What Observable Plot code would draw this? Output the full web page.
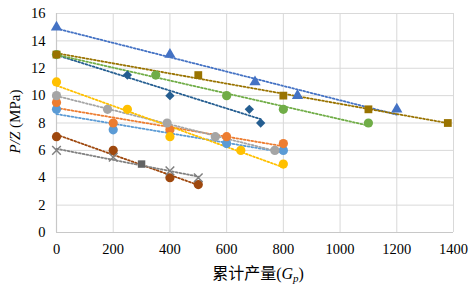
<!DOCTYPE html>
<html><head><meta charset="utf-8">
<script src="https://cdn.jsdelivr.net/npm/d3@7"></script>
<script src="https://cdn.jsdelivr.net/npm/@observablehq/plot@0.6"></script>
<style>body{margin:0;background:#fff}#chart{width:470px;height:284px}
#chart svg text{font-family:"Liberation Serif","Times New Roman","Noto Sans CJK SC",serif}</style>
</head><body><div id="chart"></div>
<script>
// axis ticks
const xTicks = [0, 200, 400, 600, 800, 1000, 1200, 1400];
const yTicks = [0, 2, 4, 6, 8, 10, 12, 14, 16];
const xTitle = "累计产量";
const yTitle = "P/Z";
const yUnit = " (MPa)";

// series values (cumulative production, P/Z)
const lightBlueX = [0, 200, 600, 800];
const lightBlueY = [9, 7.5, 6.5, 6];
const orangeX = [0, 200, 400, 600, 800];
const orangeY = [9.5, 8, 7.5, 7, 6.5];
const greyX = [0, 180, 390, 560, 770];
const greyY = [10, 9, 8, 7, 6];
const yellowX = [0, 250, 400, 650, 800];
const yellowY = [11, 9, 7, 6, 5];
const brownX = [0, 200, 400, 500];
const brownY = [7, 6, 4, 3.5];
const crossX = [0, 200, 400, 500];
const crossY = [6, 5.5, 4.5, 4];
const darkSquareX = [300];
const darkSquareY = [5];
const diamondX = [0, 250, 400, 680, 720];
const diamondY = [13, 11.5, 10, 9, 8];
const greenX = [0, 350, 600, 800, 1100];
const greenY = [13, 11.5, 10, 9, 8];
const triangleX = [0, 400, 700, 850, 1200];
const triangleY = [15, 13, 11, 10, 9];
const goldX = [0, 500, 800, 1100, 1380];
const goldY = [13, 11.5, 10, 9, 8];

const series = [
  {xs: lightBlueX, ys: lightBlueY},
  {xs: orangeX, ys: orangeY},
  {xs: greyX, ys: greyY},
  {xs: yellowX, ys: yellowY},
  {xs: brownX, ys: brownY},
  {xs: crossX, ys: crossY},
  {xs: darkSquareX, ys: darkSquareY},
  {xs: diamondX, ys: diamondY},
  {xs: greenX, ys: greenY},
  {xs: triangleX, ys: triangleY},
  {xs: goldX, ys: goldY}
];
// styles (kept apart from the data)
const styles = [
  {color: "#5B9BD5", symbol: "circle", r: 4.6},
  {color: "#ED7D31", symbol: "circle", r: 4.6},
  {color: "#A5A5A5", symbol: "circle", r: 4.6},
  {color: "#FFC000", symbol: "circle", r: 4.6},
  {color: "#9E480E", symbol: "circle", r: 4.6},
  {color: "#808080", symbol: "times", r: 4.0, stroke: true},
  {color: "#636363", symbol: "square", r: 4.2},
  {color: "#255E91", symbol: "diamond2", r: 4.2},
  {color: "#70AD47", symbol: "circle", r: 4.6},
  {color: "#4472C4", symbol: "triangle", r: 4.2},
  {color: "#997300", symbol: "square", r: 4.4}
];

const tables = series.map(s => s.xs.map((x, i) => ({x, y: s.ys[i]})));

const lineMarks = tables.map((t, i) => t.length > 1 ? Plot.linearRegressionY(t, {
  x: "x", y: "y", ci: 0, stroke: styles[i].color, strokeWidth: 1.8, strokeDasharray: "1.8,2"
}) : null).filter(Boolean);

const dotMarks = tables.map((t, i) => {
  const st = styles[i];
  return st.stroke
    ? Plot.dot(t, {x: "x", y: "y", symbol: st.symbol, r: st.r, stroke: st.color, strokeWidth: 1.5, fill: "none"})
    : Plot.dot(t, {x: "x", y: "y", symbol: st.symbol, r: st.r, fill: st.color, stroke: "none"});
});

const serif = "'Liberation Serif', 'Times New Roman', serif";
const W = 470, H = 284, mL = 56, mR = 17, mT = 13, mB = 52;
const plot = Plot.plot({
  width: W, height: H,
  marginLeft: mL, marginRight: mR, marginTop: mT, marginBottom: mB,
  style: {fontFamily: serif, fontSize: "14px", background: "#fff", color: "#000"},
  x: {domain: [0, 1400], ticks: xTicks},
  y: {domain: [0, 16], ticks: yTicks},
  marks: [
    Plot.gridX(xTicks, {stroke: "#d9d9d9", strokeOpacity: 1, strokeWidth: 1}),
    Plot.gridY(yTicks, {stroke: "#d9d9d9", strokeOpacity: 1, strokeWidth: 1}),
    Plot.ruleX([0], {stroke: "#c8c8c8", strokeWidth: 1.2}),
    Plot.ruleY([0], {stroke: "#c8c8c8", strokeWidth: 1.2}),
    Plot.axisX(xTicks, {tickSize: 0, tickPadding: 11, label: null, fill: "#000", fontSize: 14.5, fontFamily: serif, tickFormat: d => String(d)}),
    Plot.axisY(yTicks, {tickSize: 0, tickPadding: 11, label: null, fill: "#000", fontSize: 14.5, fontFamily: serif, tickFormat: d => String(d)}),
    ...lineMarks,
    ...dotMarks
  ]
});
document.getElementById("chart").appendChild(plot);

const svg = d3.select(plot);
const cjk = "'Liberation Serif', 'Times New Roman', 'Noto Sans CJK SC', serif";
// x-axis title
const xt = svg.append("text")
  .attr("x", 258).attr("y", 279)
  .attr("text-anchor", "middle").attr("font-size", 16)
  .attr("font-family", cjk).attr("fill", "#000");
xt.append("tspan").text(xTitle + "(");
xt.append("tspan").attr("font-style", "italic").text("G");
xt.append("tspan").attr("font-style", "italic").attr("font-size", 11).attr("dy", 3).text("p");
xt.append("tspan").attr("dy", -3).text(")");
// y-axis title
const yt = svg.append("text")
  .attr("transform", `translate(20,${(mT + H - mB) / 2 - 1}) rotate(-90)`)
  .attr("text-anchor", "middle").attr("font-size", 15)
  .attr("font-family", cjk).attr("fill", "#000");
yt.append("tspan").attr("font-style", "italic").text(yTitle);
yt.append("tspan").text(yUnit);
</script>
</body></html>
